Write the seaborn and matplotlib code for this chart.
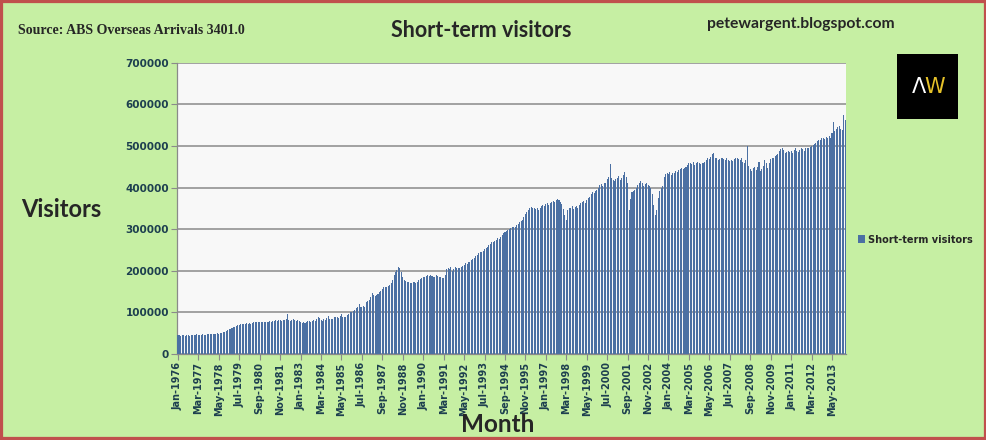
import numpy as np
import pandas as pd
import matplotlib
matplotlib.use("Agg")
import matplotlib.pyplot as plt
import seaborn as sns
from matplotlib.patches import Rectangle

# === Data: ABS short-term visitor arrivals, monthly, thousands
start_month = "1976-01"
visitors_k = [
    46, 45, 44, 46, 45, 44, 46, 45, 44, 46, 45, 46,           # 1976
    45, 47, 46, 45, 46, 47, 46, 46, 47, 48, 49, 48,           # 1977
    48, 49, 48, 50, 49, 50, 51, 52, 54, 56, 58, 60,           # 1978
    61, 63, 65, 66, 68, 69, 70, 71, 72, 72, 73, 74,           # 1979
    73, 74, 73, 75, 76, 77, 78, 77, 76, 78, 77, 76,           # 1980
    76, 78, 77, 79, 78, 80, 79, 81, 80, 82, 81, 80,           # 1981
    82, 81, 83, 96, 81, 80, 82, 83, 81, 80, 82, 79,           # 1982
    76, 75, 77, 74, 78, 79, 80, 78, 79, 81, 80, 84,           # 1983
    88, 86, 82, 80, 84, 82, 86, 91, 85, 83, 84, 88,           # 1984
    90, 89, 87, 92, 96, 88, 90, 89, 93, 95, 101, 102,         # 1985
    103, 106, 110, 114, 121, 113, 114, 116, 113, 125, 127, 130,  # 1986
    137, 146, 141, 140, 142, 143, 149, 152, 155, 160, 162, 161,  # 1987
    163, 165, 170, 178, 189, 198, 203, 210, 206, 198, 186, 178,  # 1988
    175, 173, 172, 171, 170, 173, 172, 171, 174, 177, 180, 182,  # 1989
    184, 186, 188, 189, 187, 190, 188, 186, 185, 189, 187, 185,  # 1990
    186, 183, 182, 190, 205, 206, 204, 208, 200, 205, 210, 206,  # 1991
    207, 206, 209, 212, 214, 218, 216, 220, 222, 226, 228, 231,  # 1992
    235, 238, 243, 246, 245, 248, 252, 254, 258, 262, 265, 268,  # 1993
    270, 272, 275, 278, 276, 280, 285, 290, 293, 296, 299, 301,  # 1994
    303, 305, 306, 304, 310, 312, 316, 319, 322, 330, 336, 342,  # 1995
    345, 350, 353, 352, 350, 348, 351, 347, 350, 355, 358, 356,  # 1996
    360, 362, 358, 364, 366, 368, 365, 370, 372, 369, 366, 360,  # 1997
    348, 335, 322, 345, 352, 350, 355, 348, 353, 356, 350, 358,  # 1998
    362, 365, 368, 362, 370, 375, 378, 385, 390, 388, 392, 395,  # 1999
    398, 405, 408, 404, 410, 412, 420, 425, 456, 422, 418, 415,  # 2000
    420, 424, 428, 418, 422, 430, 438, 425, 410, 345, 372, 390,  # 2001
    392, 395, 398, 405, 412, 415, 410, 403, 408, 410, 406, 404,  # 2002
    400, 385, 358, 333, 345, 375, 392, 398, 404, 425, 432, 436,  # 2003
    433, 437, 430, 434, 436, 440, 438, 442, 445, 447, 444, 448,  # 2004
    450, 455, 458, 460, 457, 462, 455, 459, 461, 458, 456, 460,  # 2005
    458, 462, 465, 470, 468, 474, 480, 484, 472, 470, 466, 468,  # 2006
    470, 472, 468, 466, 470, 465, 463, 467, 464, 468, 472, 470,  # 2007
    468, 465, 470, 462, 460, 466, 500, 452, 445, 440, 448, 450,  # 2008
    443, 450, 462, 440, 445, 452, 465, 458, 448, 460, 468, 472,  # 2009
    470, 475, 478, 480, 488, 492, 495, 490, 484, 486, 488, 485,  # 2010
    487, 482, 490, 494, 488, 485, 490, 495, 492, 489, 494, 496,  # 2011
    494, 497, 500, 503, 505, 508, 512, 515, 514, 518, 520, 517,  # 2012
    522, 518, 525, 520, 530, 558, 535, 540, 545, 548, 540, 538,  # 2013
    574, 562,                                                 # 2014
]
y_ticks = [0, 100000, 200000, 300000, 400000, 500000, 600000, 700000]

months = pd.date_range(start_month, periods=len(visitors_k), freq="MS")
month_labels = months.strftime("%b-%Y")
df = pd.DataFrame({"Month": month_labels, "Visitors": np.array(visitors_k) * 1000})

# === Colours
bg_green = "#c6efa3"
bar_blue = "#4b70a3"
tick_col = "#1d3f4f"
border_red = "#c0504d"

sns.set_style("white")
plt.rcParams["font.family"] = ["Lato", "DejaVu Sans"]

fig = plt.figure(figsize=(9.87, 4.40), dpi=100, facecolor=bg_green)
ax = fig.add_axes([0.1796, 0.1955, 0.857 - 0.1796, 0.8575 - 0.1955])
ax.set_facecolor("#f8f8f8")

sns.barplot(data=df, x="Month", y="Visitors", color=bar_blue, width=0.7,
            saturation=1, ax=ax, label="Short-term visitors", zorder=3,
            linewidth=0, edgecolor="none")

ax.set_xlim(-0.5, len(visitors_k) - 0.5)
ax.set_ylim(0, 700000)
ax.set_yticks(y_ticks)
ax.set_yticklabels([str(v) for v in y_ticks], fontsize=7.5, fontweight="bold",
                   color=tick_col, family="DejaVu Sans")
ax.yaxis.grid(True, color="#8a8a8a", linewidth=1.1, zorder=0)
ax.set_axisbelow(True)

tick_pos = list(range(0, len(visitors_k), 14))
ax.set_xticks(tick_pos)
ax.set_xticklabels([month_labels[i] for i in tick_pos], rotation=90, fontsize=7,
                   fontweight="bold", color=tick_col, family="DejaVu Sans")
ax.tick_params(axis="both", direction="out", length=4, width=0.8, color="#8a8a8a",
               bottom=True, left=True, pad=2)

for side in ["top", "right"]:
    ax.spines[side].set_visible(False)
for side in ["left", "bottom"]:
    ax.spines[side].set_color("#8a8a8a")
    ax.spines[side].set_linewidth(0.9)

ax.set_xlabel("")
ax.set_ylabel("")

# === Legend
ax.legend(loc="center left", bbox_to_anchor=(0.860, 0.455), bbox_transform=fig.transFigure,
          frameon=False, handlelength=0.75, handleheight=0.9, handletextpad=0.35,
          prop={"family": "DejaVu Sans", "weight": "bold", "size": 7})

# === Figure texts
fig.text(0.018, 0.930, "Source: ABS Overseas Arrivals 3401.0", family="Liberation Serif",
         fontweight="bold", fontsize=10, va="center", ha="left")
fig.text(0.488, 0.930, "Short-term visitors", fontweight="bold", fontsize=15.5,
         va="center", ha="center")
fig.text(0.811, 0.945, "petewargent.blogspot.com", fontweight="bold", fontsize=11.3,
         va="center", ha="center")
fig.text(0.062, 0.523, "Visitors", fontweight="bold", fontsize=17, va="center", ha="center")
fig.text(0.504, 0.036, "Month", fontweight="bold", fontsize=17.5, va="center", ha="center")

# === AW logo
logo = fig.add_axes([897 / 987, 1 - 119 / 440, 61 / 987, 65 / 440])
logo.set_facecolor("black")
logo.set_xticks([])
logo.set_yticks([])
for s in logo.spines.values():
    s.set_visible(False)
logo.text(0.36, 0.5, "\u039b", color="white", fontsize=15, ha="center", va="center",
          family="DejaVu Sans", transform=logo.transAxes)
logo.text(0.62, 0.5, "W", color="#e6c229", fontsize=15, ha="center", va="center",
          family="DejaVu Sans", transform=logo.transAxes)

# === Red frame
fig.patches.append(Rectangle((0, 0), 1, 1, transform=fig.transFigure, fill=False,
                             edgecolor=border_red, linewidth=4.5, zorder=10))

fig.savefig("out.png", dpi=100, facecolor=bg_green)
